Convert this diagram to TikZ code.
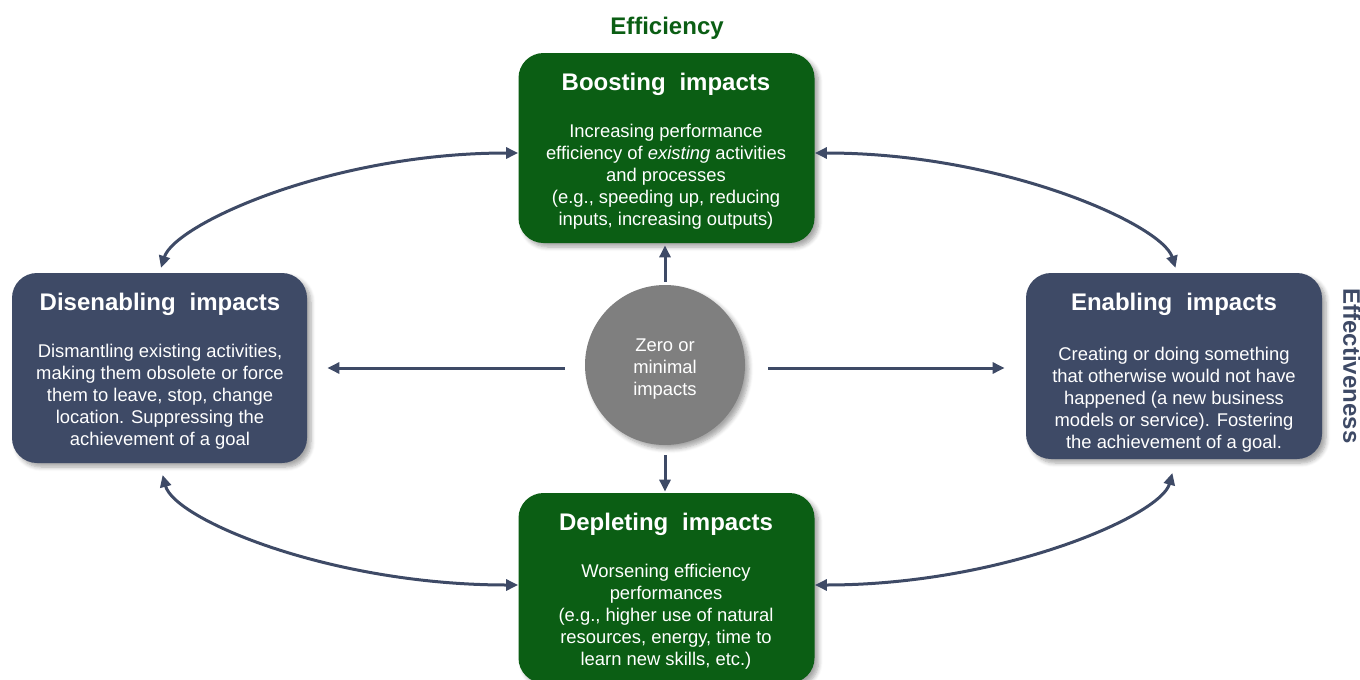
\documentclass[tikz,border=0pt]{standalone}
\usepackage{fontspec}
\setmainfont{Liberation Sans}
\usetikzlibrary{arrows.meta,shadows.blur,calc}
\definecolor{effgreen}{HTML}{0B5E14}
\definecolor{slate}{HTML}{3E4A66}
\definecolor{zgray}{HTML}{7F7F7F}
\tikzset{
  shad/.style={blur shadow={shadow xshift=2pt,shadow yshift=-2pt,shadow blur steps=6,shadow opacity=35}},
  impbox/.style={rounded corners=12.5pt,minimum width=148pt,minimum height=95pt,inner sep=0pt,shad},
  ttl/.style={text=white,font=\fontsize{12}{14}\selectfont\bfseries,inner sep=0pt},
  body/.style={text=white,font=\fontsize{9.2}{11}\selectfont,align=center,inner sep=0pt},
  arr/.style={draw=slate,line width=1.5pt,-{Triangle[length=6pt,width=5.5pt]}},
  darr/.style={draw=slate,line width=1.5pt,{Triangle[length=6pt,width=5.5pt]}-{Triangle[length=6pt,width=5.5pt]}},
}
\begin{document}
\begin{tikzpicture}[x=0.5pt,y=-0.5pt]
\useasboundingbox (0,0) rectangle (1360,680);
% boxes
\node[impbox,fill=effgreen] (boost) at (666.5,148) {};
\node[impbox,fill=slate,minimum width=147.5pt] (dis) at (159.5,368) {};
\node[impbox,fill=slate,minimum height=93pt] (enab) at (1174,366) {};
\node[impbox,fill=effgreen] (depl) at (666.5,588) {};
\node[circle,fill=zgray,minimum size=80pt,inner sep=0pt,shad] (circ) at (665,365) {};
\node[text=white,font=\fontsize{9.2}{11}\selectfont,align=center,inner sep=0pt] (circT) at (665,369) {Zero or\\minimal\\impacts};
% titles and texts
\node[ttl] (boostT) at (666,84) {Boosting\hspace{0.3em} impacts};
\node[body] (boostB) at (666,177) {Increasing performance\\efficiency of \textit{existing} activities\\and processes\\(e.g., speeding up, reducing\\inputs, increasing outputs)};
\node[ttl] (disT) at (160,304) {Disenabling\hspace{0.3em} impacts};
\node[body] (disB) at (160,397) {Dismantling existing activities,\\making them obsolete or force\\them to leave, stop, change\\location. Suppressing the\\achievement of a goal};
\node[ttl] (enabT) at (1174,304) {Enabling\hspace{0.3em} impacts};
\node[body] (enabB) at (1174,400) {Creating or doing something\\that otherwise would not have\\happened (a new business\\models or service). Fostering\\the achievement of a goal.};
\node[ttl] (deplT) at (666,524) {Depleting\hspace{0.3em} impacts};
\node[body] (deplB) at (666,617) {Worsening efficiency\\performances\\(e.g., higher use of natural\\resources, energy, time to\\learn new skills, etc.)};
% axis labels
\node[text=effgreen,font=\fontsize{12}{14}\selectfont\bfseries,inner sep=0pt] (effic) at (667,28) {Efficiency};
\node[text=slate,font=\fontsize{12}{14}\selectfont\bfseries,inner sep=0pt,rotate=-90] (effect) at (1352,366) {Effectiveness};
% straight arrows
\draw[arr,shorten <=1.5pt,shorten >=1pt] (circ.north) -- (circ.north |- boost.south);
\draw[arr,shorten <=5pt,shorten >=0.5pt] (circ.south) -- (circ.south |- depl.north);
\draw[arr,shorten <=10pt,shorten >=10pt] ([yshift=-1.5pt]circ.west) -- ([yshift=-1.5pt]circ.west -| dis.east);
\draw[arr,shorten <=11.5pt,shorten >=10.5pt] ([yshift=-1.5pt]circ.east) -- ([yshift=-1.5pt]circ.east -| enab.west);
% curved arrows
\draw[darr,shorten <=2.5pt] (dis.north) .. controls +(15,-48) and +(-188,0) .. ([yshift=-2.5pt]boost.west);
\draw[darr,shorten >=2.5pt] ([yshift=-2.5pt]boost.east) .. controls +(188,0) and +(-15,-48) .. ([xshift=1.5pt]enab.north);
\draw[darr,shorten <=6pt] (dis.south) .. controls +(15,56) and +(-188,0) .. ([yshift=1.5pt]depl.west);
\draw[darr,shorten >=7pt] ([yshift=1.5pt]depl.east) .. controls +(188,0) and +(-15,56) .. ([xshift=1pt]enab.south);
\end{tikzpicture}
\end{document}
